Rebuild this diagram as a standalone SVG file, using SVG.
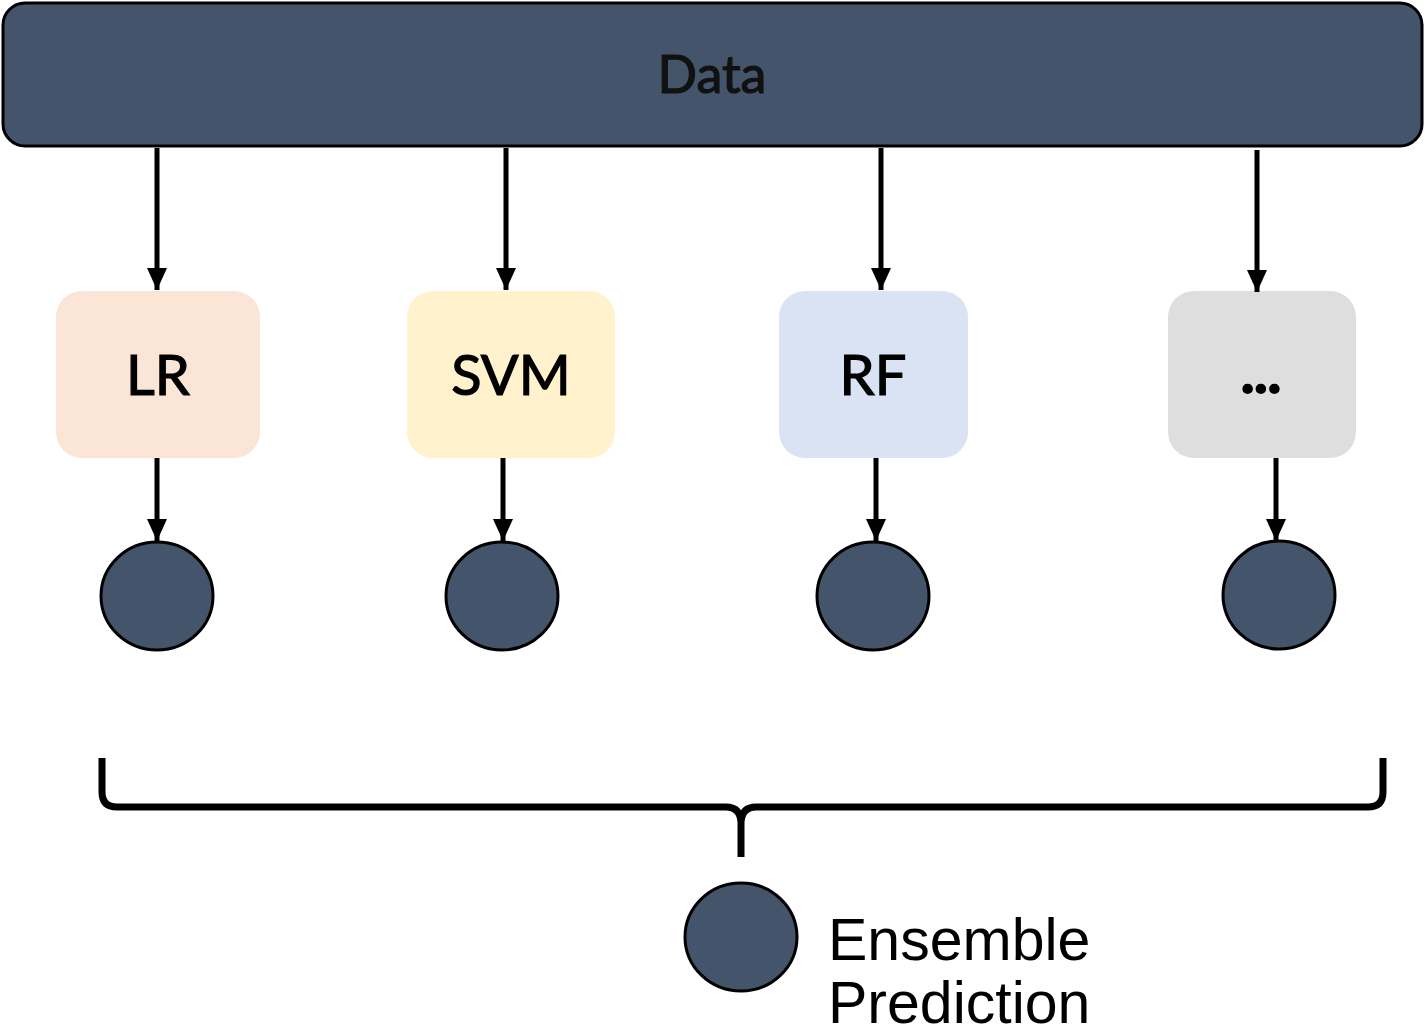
<svg xmlns="http://www.w3.org/2000/svg" width="1425" height="1036" viewBox="0 0 1425 1036">
<defs>
<marker id="ah" markerUnits="userSpaceOnUse" markerWidth="22" markerHeight="22" viewBox="0 0 22 22" refX="22" refY="11" orient="auto">
<path d="M0,1 L22,11 L0,21 Z" fill="#000"/>
</marker>
</defs>
<style>
.lbl{font-family:Lato,"Open Sans","Liberation Sans",sans-serif;font-size:56px;fill:#000;stroke:#000;stroke-width:1.2px;text-anchor:middle}
.box{stroke:none}
.dot{fill:#44546A;stroke:#000;stroke-width:3}
.conn{stroke:#000;stroke-width:5;fill:none;marker-end:url(#ah)}
.ens{font-family:"Liberation Sans",Arial,sans-serif;font-size:59px;fill:#000}
</style>
<rect width="1425" height="1036" fill="#fff"/>
<g id="data">
<rect x="3" y="3" width="1419" height="143" rx="22" fill="#44546A" stroke="#000" stroke-width="3"/>
<text class="lbl" x="712" y="93" style="font-size:52px;fill:#111;stroke:#111">Data</text>
</g>
<g id="lr">
<rect class="box" x="56" y="291" width="204" height="167" rx="26" fill="#FBE5D6"/>
<text class="lbl" x="158" y="395">LR</text>
</g>
<g id="svm">
<rect class="box" x="407" y="291" width="208" height="167" rx="26" fill="#FFF2CC"/>
<text class="lbl" x="511" y="395">SVM</text>
</g>
<g id="rf">
<rect class="box" x="779" y="291" width="189" height="167" rx="26" fill="#DAE3F3"/>
<text class="lbl" x="873" y="395">RF</text>
</g>
<g id="more">
<rect class="box" x="1168" y="291" width="188" height="167" rx="26" fill="#DEDEDE"/>
<text class="lbl" x="1261" y="393" style="font-weight:700;stroke-width:2px">...</text>
</g>
<g id="out-lr"><ellipse class="dot" cx="157" cy="596" rx="56" ry="54"/></g>
<g id="out-svm"><ellipse class="dot" cx="502" cy="596" rx="56" ry="54"/></g>
<g id="out-rf"><ellipse class="dot" cx="873" cy="596" rx="56" ry="54"/></g>
<g id="out-more"><ellipse class="dot" cx="1279" cy="595" rx="56" ry="54"/></g>
<g id="ensemble">
<ellipse class="dot" cx="741" cy="937" rx="56" ry="54"/>
<text class="ens" x="828" y="960">Ensemble</text>
<text class="ens" x="828" y="1023">Prediction</text>
</g>
<g id="connectors">
<line class="conn" x1="157" y1="148" x2="157" y2="290"/>
<line class="conn" x1="506" y1="148" x2="506" y2="290"/>
<line class="conn" x1="881" y1="148" x2="881" y2="290"/>
<line class="conn" x1="1257" y1="150" x2="1257" y2="292"/>
<line class="conn" x1="157" y1="458" x2="157" y2="541"/>
<line class="conn" x1="503" y1="458" x2="503" y2="541"/>
<line class="conn" x1="876" y1="458" x2="876" y2="541"/>
<line class="conn" x1="1276" y1="458" x2="1276" y2="541"/>
<path d="M102,758 L102,792 Q102,807 117,807 L726,807 Q740,807 741,822 L741,857 M741,857 L741,822 Q742,807 756,807 L1368,807 Q1383,807 1383,792 L1383,758" stroke="#000" stroke-width="7" fill="none" stroke-linejoin="round"/>
</g>
</svg>
